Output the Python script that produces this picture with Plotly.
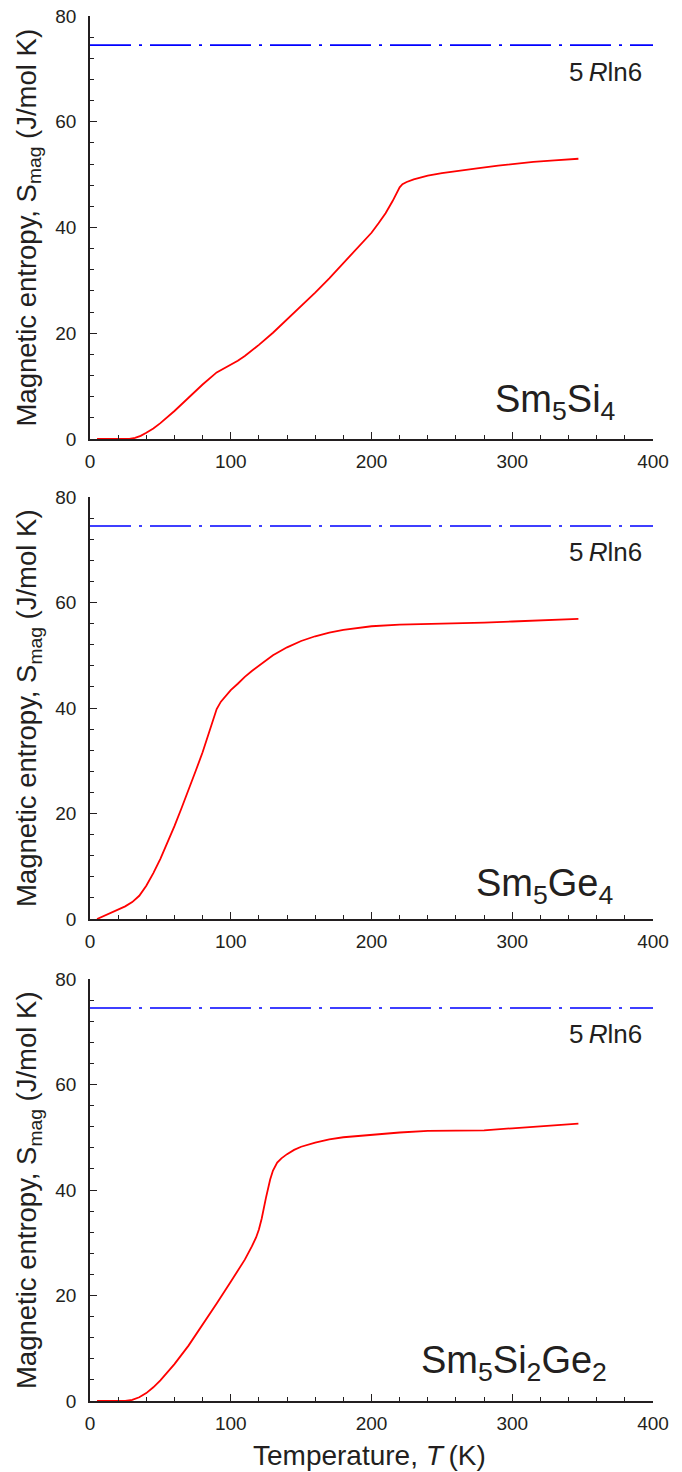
import plotly.graph_objects as go

# ---- data ----
T_si4 = [5,10,20,28,32,36,40,45,50,55,60,70,80,90,100,105,110,120,130,140,150,160,170,180,190,200,205,210,215,218,220,222,225,230,240,250,260,275,290,300,315,330,347]
S_si4 = [0,0,0,0,0.2,0.6,1.2,2,3,4.1,5.3,7.8,10.3,12.6,14.0,14.8,15.7,17.8,20.1,22.6,25.1,27.7,30.4,33.2,36,39,40.8,42.7,45,46.6,47.6,48.2,48.6,49.1,49.8,50.3,50.7,51.2,51.7,52,52.4,52.7,53.0]

T_ge4 = [5,10,15,20,25,30,35,40,45,50,55,60,65,70,75,80,85,90,93,96,100,105,110,115,120,130,140,150,160,170,180,190,200,220,240,260,280,300,320,347]
S_ge4 = [0,0.6,1.2,1.8,2.4,3.2,4.4,6.3,8.7,11.4,14.4,17.6,21,24.4,28,31.6,35.5,39.8,41.2,42.2,43.4,44.6,45.9,47,48,50,51.5,52.7,53.6,54.3,54.8,55.2,55.5,55.8,55.9,56.0,56.2,56.4,56.6,56.9]

T_si2ge2 = [5,10,20,25,30,35,40,45,50,60,70,80,90,100,110,115,118,120,122,125,128,130,133,136,140,145,150,160,170,180,200,220,240,260,280,300,320,347]
S_si2ge2 = [0,0,0,0,0.2,0.7,1.5,2.6,3.9,7.0,10.5,14.4,18.5,22.6,26.8,29.3,31.0,32.5,34.6,38.5,42,43.7,45.2,46,46.8,47.6,48.2,49.0,49.6,50.0,50.5,50.9,51.2,51.2,51.3,51.7,52.1,52.6]

limit_x = [0, 400]
limit_S = 74.5  # 5 R ln6

labels = ["Sm<sub>5</sub>Si<sub>4</sub>", "Sm<sub>5</sub>Ge<sub>4</sub>", "Sm<sub>5</sub>Si<sub>2</sub>Ge<sub>2</sub>"]
series = [(T_si4, S_si4), (T_ge4, S_ge4), (T_si2ge2, S_si2ge2)]
label_pos = [(331, 7.0), (323, 6.3), (301, 7.2)]  # data coords

W, H = 682, 1472
mt, mb, ml, mr = 16, 71, 90, 29
ph = H - mt - mb
def py(pix):
    return 1 - (pix - mt) / ph

domains = [[py(439), 1.0], [py(919), py(497)], [0.0, py(979)]]
FONT = "Liberation Sans, Arial, Helvetica, sans-serif"
TXT = "#231f20"

fig = go.Figure()
annotations = []
for i in range(3):
    T, S = series[i]
    n = "" if i == 0 else str(i + 1)
    xa, ya = "x" + n, "y" + n
    fig.add_trace(go.Scatter(x=limit_x, y=[limit_S, limit_S], mode="lines",
                             line=dict(color="#0000ff", width=1.7, dash="41px,8px,3px,8px"),
                             xaxis=xa, yaxis=ya, showlegend=False))
    fig.add_trace(go.Scatter(x=T, y=S, mode="lines",
                             line=dict(color="#ff0000", width=1.8),
                             xaxis=xa, yaxis=ya, showlegend=False))
    axis_common = dict(showline=True, linecolor="#231f20", linewidth=1.5,
                       showgrid=False, zeroline=False, mirror=False, automargin=False,
                       tickfont=dict(size=19, color=TXT, family=FONT))
    fig.update_layout(**{
        ("xaxis" + n): dict(domain=[0, 1], range=[0, 400], anchor=ya,
                            dtick=100, ticks="inside", ticklen=7, tickwidth=1, tickcolor="#231f20",
                            ticklabelstandoff=4,
                            minor=dict(dtick=20, ticks="inside", ticklen=4, tickwidth=1, tickcolor="#231f20"),
                            **axis_common),
        ("yaxis" + n): dict(domain=domains[i], range=[0, 80], anchor=xa,
                            dtick=20, ticks="inside", ticklen=7, tickwidth=1, tickcolor="#231f20",
                            ticklabelstandoff=8,
                            minor=dict(dtick=4, ticks="inside", ticklen=4, tickwidth=1, tickcolor="#231f20"),
                            **axis_common),
    })
    lx, ly = label_pos[i]
    annotations.append(dict(x=lx, y=ly, xref=xa, yref=ya,
                            text=labels[i], showarrow=False, font=dict(size=38, color=TXT, family=FONT),
                            xanchor="center", yanchor="middle"))
    annotations.append(dict(x=366, y=69.5, xref=xa, yref=ya, text="5\u2009<i>R</i>ln6", showarrow=False,
                            font=dict(size=26, color=TXT, family=FONT), xanchor="center", yanchor="middle"))
    ymid = (domains[i][0] + domains[i][1]) / 2
    annotations.append(dict(x=-0.11, y=ymid, xref="paper", yref="paper", textangle=-90,
                            text="Magnetic entropy, S<sub>mag</sub> (J/mol K)", showarrow=False,
                            font=dict(size=27.5, color=TXT, family=FONT), xanchor="center", yanchor="middle"))

annotations.append(dict(x=0.496, y=-0.039, xref="paper", yref="paper", text="Temperature, <i>T</i>\u2009(K)",
                        showarrow=False, font=dict(size=28, color=TXT, family=FONT),
                        xanchor="center", yanchor="middle"))

fig.update_layout(width=W, height=H, margin=dict(l=ml, r=mr, t=mt, b=mb, autoexpand=False),
                  paper_bgcolor="white", plot_bgcolor="white",
                  annotations=annotations, font=dict(family=FONT, color=TXT))
fig.write_html("out.html")
